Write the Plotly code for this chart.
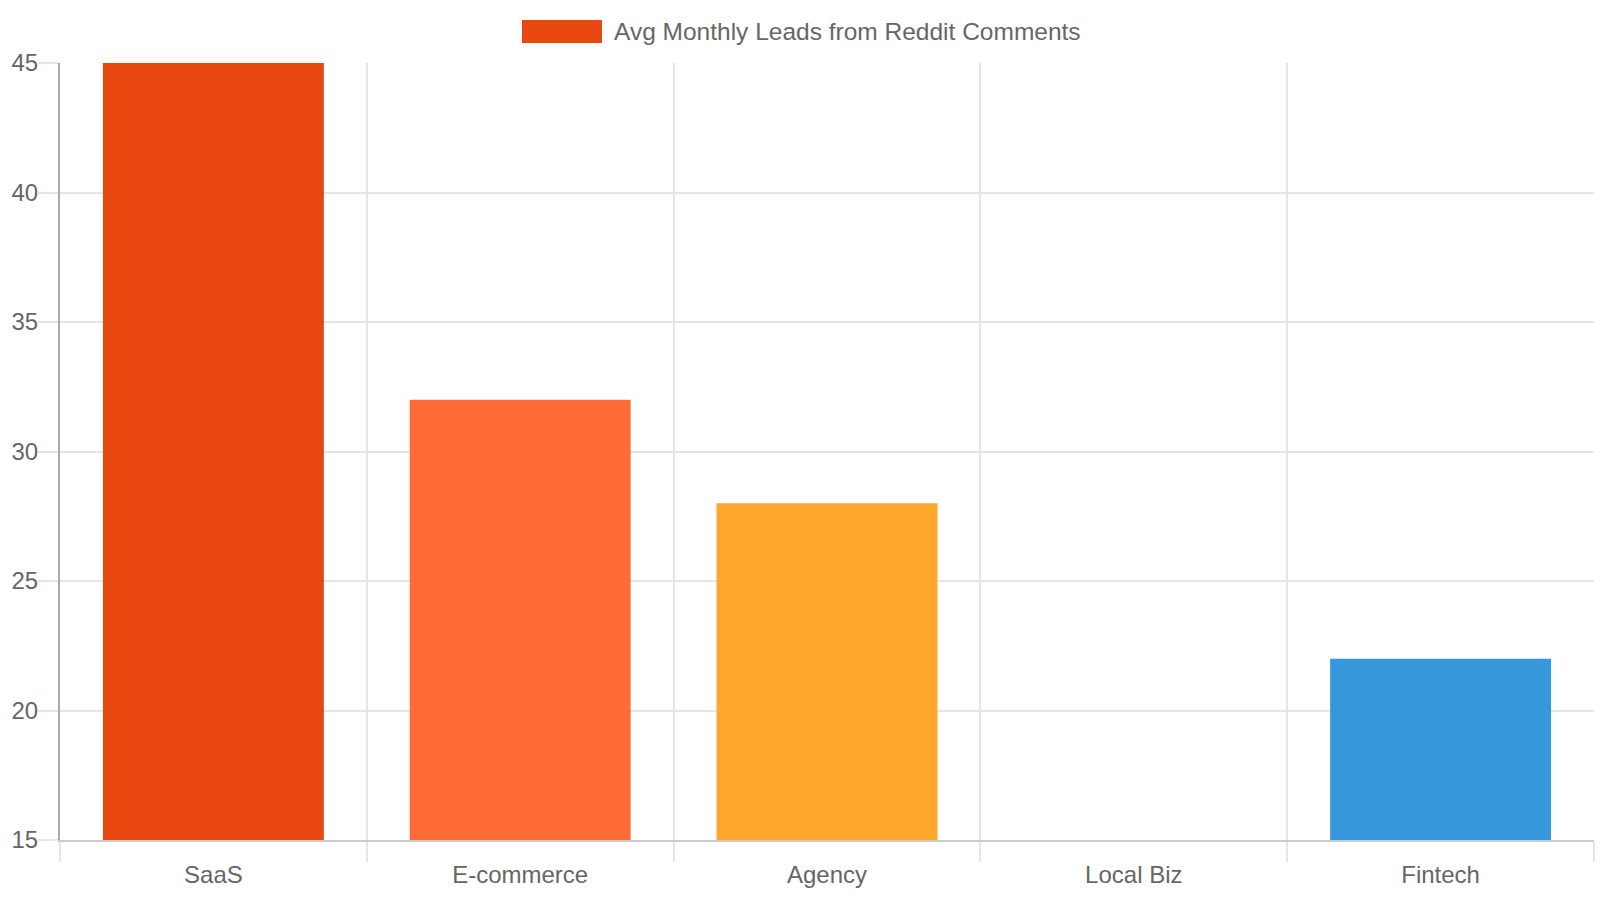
import plotly.graph_objects as go

# chart data
categories = ["SaaS", "E-commerce", "Agency", "Local Biz", "Fintech"]
avg_leads = [45, 32, 28, 15, 22]
bar_colors = ["#E8470F", "#FF6B35", "#FFA62B", "#2ECC71", "#3698DB"]
series_name = "Avg Monthly Leads from Reddit Comments"

W, H = 1600, 900
L, R, T, B = 60, 6, 63, 60
FONT = "Liberation Sans, Arial, sans-serif"
GRID = "#e5e5e5"


def px_x(x):
    # pixel -> paper coordinate (horizontal)
    return (x - L) / (W - L - R)


def px_y(y):
    # pixel -> paper coordinate (vertical)
    return (H - B - y) / (H - T - B)


fig = go.Figure(
    go.Bar(
        x=categories,
        y=avg_leads,
        marker=dict(color=bar_colors, line=dict(width=0)),
        name=series_name,
        showlegend=False,
    )
)

# legend drawn by hand, chart.js style (wide box + label)
fig.add_shape(
    type="rect", xref="paper", yref="paper",
    x0=px_x(522), x1=px_x(602), y0=px_y(43), y1=px_y(20),
    fillcolor=bar_colors[0], line=dict(width=0),
)
fig.add_annotation(
    text=series_name, xref="paper", yref="paper",
    x=px_x(612), y=px_y(32), xanchor="left", yanchor="middle",
    showarrow=False, font=dict(family=FONT, size=24.5, color="#666"),
)

fig.update_layout(
    width=W, height=H,
    margin=dict(l=L, r=R, t=T, b=B),
    paper_bgcolor="white", plot_bgcolor="white",
    bargap=0.28,
    font=dict(family=FONT, size=24, color="#666"),
)
fig.update_xaxes(
    tickson="boundaries", showgrid=True, gridcolor=GRID, gridwidth=2,
    ticks="outside", ticklen=20, tickcolor=GRID, tickwidth=2,
    ticklabelstandoff=12,
    showline=True, linecolor="#cccccc", linewidth=2,
    tickfont=dict(size=24, color="#666"),
)
fig.update_yaxes(
    range=[15, 45], dtick=5, showgrid=True, gridcolor=GRID, gridwidth=2,
    ticks="outside", ticklen=20, tickcolor=GRID, tickwidth=2,
    ticklabelstandoff=-5,
    showline=True, linecolor="#aaaaaa", linewidth=2,
    zeroline=False, tickfont=dict(size=24, color="#666"),
)

# page body has a default 8px margin; drop it so the figure fills the window
fig.write_html(
    "out.html",
    config={"displayModeBar": False},
    post_script="document.body.style.margin = '0';",
)
